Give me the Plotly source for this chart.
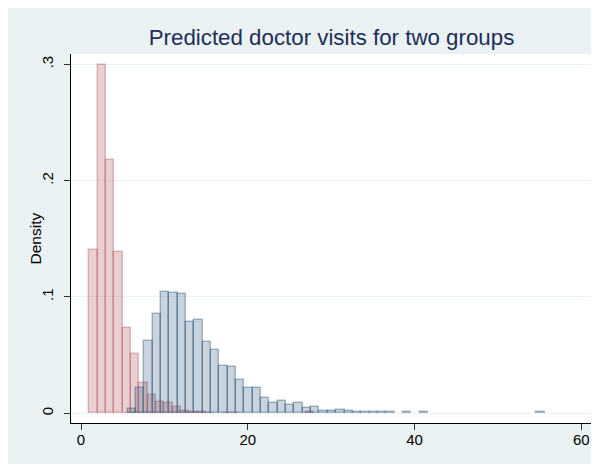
import plotly.graph_objects as go

# ---- data ----
# group 1 (red): bins of width 1 starting at 1
red_bin_left = [1, 2, 3, 4, 5, 6, 7, 8, 9, 10, 11, 12, 13, 14, 15, 16, 17, 18,
                19, 20, 21, 22, 23, 24, 25, 26, 27]
red_density = [0.140, 0.299, 0.218, 0.139, 0.073, 0.051, 0.026, 0.016, 0.010,
               0.0086, 0.005, 0.0017, 0.0015, 0.0008, 0.0006, 0.0, 0.0006, 0.0006,
               0.0, 0.0, 0.0, 0.0, 0.0, 0.0, 0.0, 0.0, 0.0008]

# group 2 (blue): bins of width 1 starting at 5.6
blue_bin_start = 5.6
blue_density = [0.0034, 0.0215, 0.0624, 0.0856, 0.1046, 0.1031, 0.1023, 0.0788,
                0.0805, 0.0610, 0.0547, 0.0410, 0.0400, 0.0288, 0.0220, 0.0220,
                0.0134, 0.0092, 0.0108, 0.0068, 0.0091, 0.0042, 0.0050, 0.0017,
                0.0017, 0.0028, 0.0018, 0.0009, 0.0009, 0.0009, 0.0009, 0.0009,
                0.0, 0.0009, 0.0, 0.0009, 0.0, 0.0, 0.0, 0.0, 0.0, 0.0, 0.0, 0.0,
                0.0, 0.0, 0.0, 0.0, 0.0, 0.0009]
bin_width = 1.0

x_ticks = [0, 20, 40, 60]
y_ticks = [0, 0.1, 0.2, 0.3]
y_ticklabels = ["0", ".1", ".2", ".3"]
title_text = "Predicted doctor visits for two groups"
y_title = "Density"

# ---- build traces ----
red_x = [l + bin_width / 2 for l, v in zip(red_bin_left, red_density) if v > 0]
red_y = [v for v in red_density if v > 0]
blue_left = [round(blue_bin_start + k * bin_width, 2) for k in range(len(blue_density))]
blue_x = [l + bin_width / 2 for l, v in zip(blue_left, blue_density) if v > 0]
blue_y = [v for v in blue_density if v > 0]

fig = go.Figure()
fig.add_trace(go.Bar(
    x=red_x, y=red_y, width=bin_width,
    marker=dict(color="rgba(178,82,92,0.28)",
                line=dict(color="rgba(170,70,80,0.34)", width=1.5)),
    showlegend=False, hoverinfo="x+y"))
fig.add_trace(go.Bar(
    x=blue_x, y=blue_y, width=bin_width,
    marker=dict(color="rgba(26,71,111,0.23)",
                line=dict(color="rgba(26,71,111,0.36)", width=1.5)),
    showlegend=False, hoverinfo="x+y"))

# page has an 8px body margin; figure sized to fill the rest of the window
W, H = 591, 456
L, R, T, B = 63, 7, 46, 41
PW = W - L - R

fig.update_layout(
    width=W, height=H, autosize=False,
    margin=dict(l=L, r=R, t=T, b=B, pad=0),
    paper_bgcolor="#EAF2F3", plot_bgcolor="white",
    barmode="overlay", bargap=0,
    font=dict(family="Liberation Sans, Arial, sans-serif", color="black"),
    title=dict(text=title_text, x=0.5, xref="paper", xanchor="center",
               yref="container", y=1 - 29 / H, yanchor="middle",
               font=dict(size=22.3, color="#1E2D5A")),
    xaxis=dict(range=[-1.2, 61.28], tickvals=x_ticks, ticktext=[str(t) for t in x_ticks],
               showline=True, linecolor="black", linewidth=1,
               ticks="outside", ticklen=6, tickcolor="#333333", tickwidth=1,
               showgrid=False, zeroline=False, tickfont=dict(size=15),
               ticklabelstandoff=-3),
    yaxis=dict(range=[-0.00834, 0.30885], tickvals=y_ticks, ticktext=y_ticklabels,
               tickangle=-90, showline=True, linecolor="black", linewidth=1,
               ticks="outside", ticklen=6, tickcolor="#333333", tickwidth=1,
               showgrid=True, gridcolor="#EAF2F3", gridwidth=1, zeroline=False,
               tickfont=dict(size=15), ticklabelstandoff=5),
    annotations=[dict(text=y_title, xref="paper", yref="paper",
                      x=(27 - L) / PW, y=0.5, xanchor="center", yanchor="middle",
                      textangle=-90, showarrow=False,
                      font=dict(size=15.5, color="black"))],
)

fig.write_html("out.html")
